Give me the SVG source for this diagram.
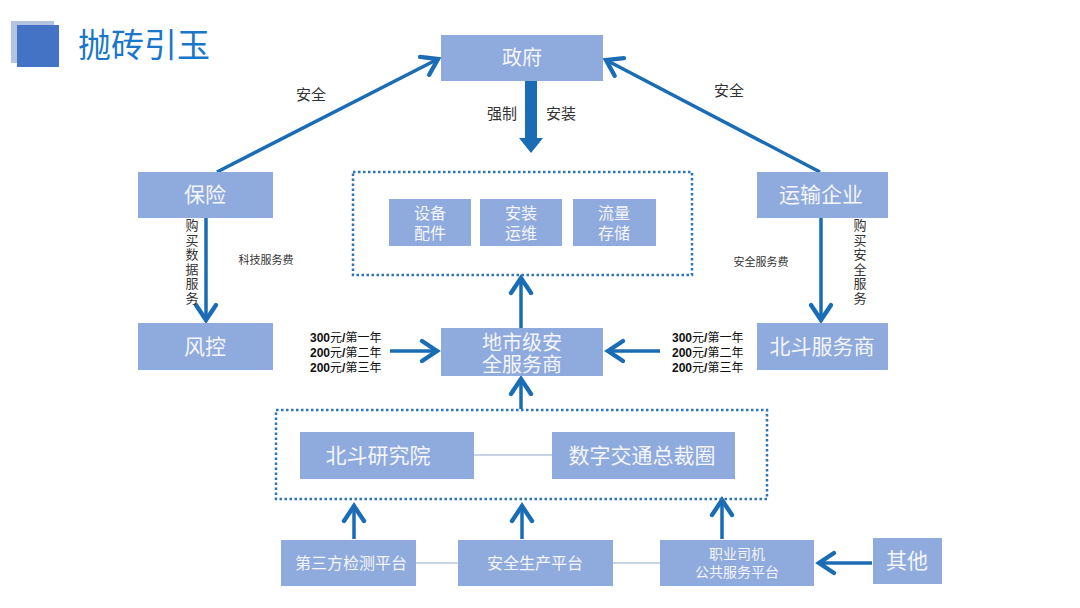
<svg xmlns="http://www.w3.org/2000/svg" width="1080" height="608" viewBox="0 0 1080 608">
<defs>
<marker id="ah" markerUnits="userSpaceOnUse" markerWidth="30" markerHeight="30" refX="0" refY="0" viewBox="-16 -12 20 24" orient="auto" overflow="visible">
<path d="M-12,-8 L0,0 L-12,8" fill="none" stroke="#1a6db5" stroke-width="3.5" stroke-linecap="round" stroke-linejoin="miter"/>
</marker>
</defs>
<style>
.box{fill:#8faadc}
.bt{font-family:"Noto Sans CJK SC","Noto Sans",sans-serif;fill:#f4f6fb;text-anchor:middle}
.lb{font-family:"Noto Sans CJK SC","Noto Sans",sans-serif;fill:#333;text-anchor:middle}
.vt{font-family:"Noto Sans CJK SC","Noto Sans",sans-serif;fill:#333;writing-mode:vertical-rl;letter-spacing:1.5px;font-size:13px}
.pr{font-family:"Noto Sans CJK SC","Noto Sans",sans-serif;fill:#111;font-size:12px}
.pr tspan.n{font-family:"Liberation Sans",sans-serif;font-weight:bold}
.ar{stroke:#1a6db5;stroke-width:3.5;fill:none;marker-end:url(#ah)}
.dot{fill:none;stroke:#2e75b6;stroke-width:2.5;stroke-dasharray:2.5 2.5}
.ln{stroke:#b8c6df;stroke-width:1.5}
</style>
<rect width="1080" height="608" fill="#ffffff"/>
<g id="title">
<rect x="11" y="21" width="43" height="42" fill="#b4c3e0"/>
<rect x="17" y="25" width="42" height="42" fill="#4472c4"/>
<text x="78" y="57" font-family="'Noto Sans CJK SC',sans-serif" font-size="33" fill="#1a76c8">抛砖引玉</text>
</g>
<g id="connectors">
<line class="ar" x1="217" y1="172" x2="438" y2="59"/>
<line class="ar" x1="820" y1="172" x2="606" y2="60"/>
<path d="M525,81 L537,81 L537,138 L543,138 L531,153 L519,138 L525,138 Z" fill="#1a6db5"/>
<line class="ar" x1="206" y1="218" x2="206" y2="320"/>
<line class="ar" x1="821" y1="218" x2="821" y2="320"/>
<line class="ar" x1="390" y1="351" x2="437" y2="351"/>
<line class="ar" x1="660" y1="351" x2="608" y2="351"/>
<line class="ar" x1="521" y1="328" x2="521" y2="278"/>
<line class="ar" x1="521" y1="409" x2="521" y2="379"/>
<line class="ar" x1="354" y1="539" x2="354" y2="506"/>
<line class="ar" x1="522" y1="539" x2="522" y2="506"/>
<line class="ar" x1="722" y1="539" x2="722" y2="500"/>
<line class="ar" x1="872" y1="563" x2="819" y2="563"/>
<line class="ln" x1="474" y1="455" x2="552" y2="455"/>
<line class="ln" x1="416" y1="563" x2="458" y2="563"/>
<line class="ln" x1="613" y1="563" x2="660" y2="563"/>
<rect class="dot" x="353" y="172" width="339" height="103"/>
<rect class="dot" x="276" y="410" width="491" height="89"/>
</g>
<g id="labels">
<text class="lb" x="311" y="100" font-size="15">安全</text>
<text class="lb" x="729" y="96" font-size="15">安全</text>
<text class="lb" x="502" y="119" font-size="15">强制</text>
<text class="lb" x="561" y="119" font-size="15">安装</text>
<text class="vt" x="192" y="219">购买数据服务</text>
<text class="vt" x="860" y="219">购买安全服务</text>
<text class="lb" x="266" y="264" font-size="11">科技服务费</text>
<text class="lb" x="761" y="266" font-size="11">安全服务费</text>
<text class="pr" x="310" y="342"><tspan class="n">300</tspan>元<tspan class="n">/</tspan>第一年</text>
<text class="pr" x="310" y="357"><tspan class="n">200</tspan>元<tspan class="n">/</tspan>第二年</text>
<text class="pr" x="310" y="372"><tspan class="n">200</tspan>元<tspan class="n">/</tspan>第三年</text>
<text class="pr" x="672" y="342"><tspan class="n">300</tspan>元<tspan class="n">/</tspan>第一年</text>
<text class="pr" x="672" y="357"><tspan class="n">200</tspan>元<tspan class="n">/</tspan>第二年</text>
<text class="pr" x="672" y="372"><tspan class="n">200</tspan>元<tspan class="n">/</tspan>第三年</text>
</g>
<g id="n-gov"><rect class="box" x="441" y="35" width="162" height="46"/><text class="bt" x="522" y="65" font-size="20">政府</text></g>
<g id="n-insure"><rect class="box" x="138" y="172" width="135" height="46"/><text class="bt" x="205" y="202" font-size="21">保险</text></g>
<g id="n-risk"><rect class="box" x="138" y="323" width="135" height="47"/><text class="bt" x="205" y="354" font-size="21">风控</text></g>
<g id="n-trans"><rect class="box" x="757" y="172" width="131" height="46"/><text class="bt" x="821" y="202" font-size="21">运输企业</text></g>
<g id="n-bds"><rect class="box" x="757" y="323" width="131" height="47"/><text class="bt" x="822" y="354" font-size="21">北斗服务商</text></g>
<g id="n-equip"><rect class="box" x="389" y="199" width="82" height="47"/><text class="bt" font-size="16"><tspan x="430" y="219">设备</tspan><tspan x="430" y="239">配件</tspan></text></g>
<g id="n-install"><rect class="box" x="480" y="199" width="82" height="47"/><text class="bt" font-size="16"><tspan x="521" y="219">安装</tspan><tspan x="521" y="239">运维</tspan></text></g>
<g id="n-flow"><rect class="box" x="573" y="199" width="83" height="47"/><text class="bt" font-size="16"><tspan x="614" y="219">流量</tspan><tspan x="614" y="239">存储</tspan></text></g>
<g id="n-city"><rect class="box" x="441" y="328" width="162" height="48"/><text class="bt" font-size="20"><tspan x="522" y="350">地市级安</tspan><tspan x="522" y="372">全服务商</tspan></text></g>
<g id="n-bdri"><rect class="box" x="300" y="432" width="174" height="47"/><text class="bt" x="378" y="463" font-size="21">北斗研究院</text></g>
<g id="n-digital"><rect class="box" x="552" y="432" width="183" height="47"/><text class="bt" x="642" y="463" font-size="21">数字交通总裁圈</text></g>
<g id="n-third"><rect class="box" x="281" y="540" width="135" height="46"/><text class="bt" x="351" y="569" font-size="16">第三方检测平台</text></g>
<g id="n-safe"><rect class="box" x="458" y="540" width="155" height="46"/><text class="bt" x="535" y="569" font-size="16">安全生产平台</text></g>
<g id="n-driver"><rect class="box" x="660" y="540" width="154" height="46"/><text class="bt" font-size="14"><tspan x="737" y="559">职业司机</tspan><tspan x="737" y="577">公共服务平台</tspan></text></g>
<g id="n-other"><rect class="box" x="873" y="538" width="69" height="46"/><text class="bt" x="907" y="568" font-size="21">其他</text></g>
</svg>
